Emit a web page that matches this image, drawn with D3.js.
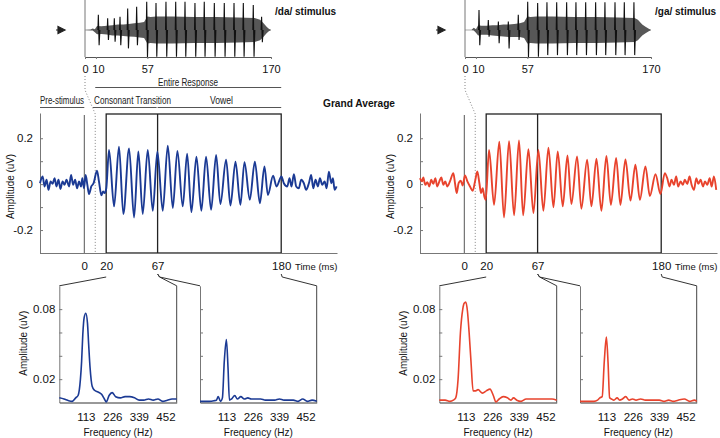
<!DOCTYPE html>
<html><head><meta charset="utf-8">
<script src="https://cdn.jsdelivr.net/npm/d3@7"></script>
<style>body{margin:0;background:#fff}svg{display:block;font-family:"Liberation Sans",Arial,Helvetica,sans-serif}</style>
</head><body>
<svg id="c" width="720" height="438"></svg>
<script>
// ---------------- DATA ----------------
const stimTicks = [0, 10, 57, 170];
const respTicks = [0, 20, 67, 180];
const freqTicks = [113, 226, 339, 452];
const respYTicks = [-0.3, -0.2, -0.1, 0, 0.1, 0.2];
const respYLabels = [0.2, 0, -0.2];
const specYTicks = [0.02, 0.04, 0.06, 0.08];
const specYLabels = [0.08, 0.02];

// stimulus waveforms: envelope + pitch-pulse spikes (time ms, normalized amplitude)
const daEnvT  = [0,5,7,9,11,15,20,25,30,35,40,45,50,54,57,60,65,80,100,120,140,155,160,163,166,168,170];
const daEnvHi = [0.01,0.02,0.06,0.03,0.15,0.14,0.16,0.18,0.2,0.2,0.22,0.25,0.27,0.3,0.5,0.48,0.5,0.5,0.48,0.48,0.46,0.44,0.38,0.26,0.12,0.05,0.01];
const daEnvLo = [-0.01,-0.02,-0.02,-0.08,-0.16,-0.15,-0.17,-0.2,-0.2,-0.22,-0.24,-0.25,-0.28,-0.3,-0.5,-0.48,-0.5,-0.5,-0.48,-0.48,-0.46,-0.44,-0.38,-0.26,-0.12,-0.05,-0.01];
const daSpikeT   = [12.2,20.7,26.8,32.0,39.0,47.2,56.4,64.9,74.0,82.9,91.4,100.5,109.0,118.2,127.3,136.2,144.7,153.8,161.4];
const daSpikeTop = [0.56,0.43,0.43,0.49,0.80,0.86,1.05,1.0,1.05,1.05,1.05,1.0,1.05,1.0,1.0,1.0,1.0,0.93,0.49];
const daSpikeBot = [-0.56,-0.37,-0.43,-0.56,-0.68,-0.56,-1.0,-0.99,-0.99,-0.99,-0.99,-0.99,-0.99,-0.99,-0.99,-0.99,-0.99,-0.99,-0.45];

const gaEnvT  = [0,6,8,10,12,15,20,25,30,35,40,45,50,54,57,60,65,80,100,120,140,155,158,162,165,168,170];
const gaEnvHi = [0.01,0.01,0.08,0.03,0.18,0.16,0.16,0.18,0.18,0.2,0.2,0.22,0.25,0.3,0.5,0.48,0.5,0.5,0.48,0.48,0.46,0.44,0.38,0.2,0.12,0.05,0.01];
const gaEnvLo = [-0.01,-0.01,-0.02,-0.1,-0.2,-0.18,-0.18,-0.2,-0.22,-0.24,-0.26,-0.26,-0.26,-0.3,-0.5,-0.48,-0.5,-0.5,-0.48,-0.48,-0.46,-0.44,-0.38,-0.2,-0.12,-0.05,-0.01];
const gaSpikeT   = [12.8,21.3,30.5,39.6,48.7,57.3,66.4,74.9,83.8,92.9,101.4,110.3,119.4,127.9,137.1,145.6,154.4];
const gaSpikeTop = [0.74,0.37,0.31,0.31,0.56,1.05,1.0,1.03,1.03,1.03,1.03,1.03,1.03,1.03,1.03,1.03,1.03];
const gaSpikeBot = [-0.56,-0.25,-0.49,-0.68,-0.37,-1.0,-0.99,-0.93,-0.93,-0.93,-0.93,-0.93,-0.93,-0.93,-0.93,-0.93,-0.93];

// grand-average responses: [time ms, amplitude uV]
const daResp = [[-40.5,0.004],[-38.1,0.033],[-36.3,-0.010],[-34.5,0.019],[-32.7,-0.025],[-30.8,0.012],[-29.0,0.001],[-27.2,0.026],[-25.4,-0.010],[-23.6,0.019],[-21.8,-0.021],[-19.9,0.012],[-18.1,-0.003],[-16.3,0.019],[-13.9,-0.010],[-12.1,0.040],[-10.2,-0.003],[-8.4,0.019],[-6.6,-0.018],[-4.8,0.012],[-3.0,-0.010],[-1.8,0.026],[-0.3,-0.018],[1.2,0.040],[2.8,-0.003],[4.3,-0.043],[6.4,-0.010],[8.5,0.004],[11.6,0.059],[13.4,0.012],[15.6,-0.049],[17.1,-0.032],[18.6,-0.039],[20.1,-0.018],
[22.6,0.149],[27.2,-0.097],[31.7,0.163],[35.7,-0.13],[40.9,0.156],[45.5,-0.145],[49.4,0.142],[53.4,-0.13],[58,0.149],[62.6,-0.116],[66.8,0.142],[71.7,-0.116],[76.3,0.168],[80.9,-0.104],[85.1,0.145],[90,-0.097],[94,0.133],[97.9,-0.122],[102.5,0.12],[107,-0.116],[111.3,0.12],[115.9,-0.112],[120.5,0.127],[124.4,-0.087],[129.6,0.106],[133.6,-0.093],[138.2,0.098],[142.7,-0.09],[146.4,0.096],[151.3,-0.068],[155.9,0.098],[160.5,-0.083],[164.7,0.077],[167.8,-0.047],[172.6,0.037],[175.7,-0.01],[180.2,0.033],
[182.4,0.004],[185.5,-0.010],[187.6,0.026],[189.4,-0.010],[191.6,0.043],[193.7,-0.010],[196.1,-0.018],[198.3,0.019],[200.7,0.004],[202.8,-0.025],[205.3,0.004],[207.4,0.040],[209.3,-0.018],[211.4,0.019],[213.5,-0.010],[215.4,0.026],[217.5,-0.003],[219.7,0.012],[221.5,-0.018],[223.6,0.054],[225.8,0.004],[227.3,0.026],[228.8,-0.025],[230.6,-0.010]];

const gaResp = [[-40.5,0.026],[-38.7,0.012],[-37.5,0.029],[-35.7,-0.003],[-33.8,0.009],[-32.0,-0.010],[-30.2,0.019],[-28.3,0.001],[-26.5,0.026],[-24.7,-0.010],[-22.8,0.012],[-21.0,0.029],[-19.2,-0.003],[-17.4,0.012],[-15.5,-0.010],[-13.1,0.012],[-10.0,0.048],[-8.5,0.004],[-7.0,-0.039],[-5.2,0.004],[-3.3,0.015],[-1.5,-0.006],[0.6,0.038],[2.8,0.012],[5.2,-0.010],[7.7,-0.029],[9.8,0.012],[11.9,0.055],[13.8,0.004],[15.3,-0.039],[16.8,-0.018],[18.3,-0.054],[19.6,-0.068],
[22.6,0.149],[27.2,-0.09],[32,0.185],[36.3,-0.145],[40.9,0.187],[45.5,-0.136],[50,0.19],[53.8,-0.136],[58.6,0.152],[63.2,-0.126],[67.7,0.149],[72.3,-0.116],[76.9,0.159],[81.5,-0.101],[85.4,0.142],[90,-0.097],[94.3,0.125],[97.9,-0.087],[103.1,0.121],[107,-0.107],[112.3,0.107],[116.2,-0.097],[120.8,0.111],[125.3,-0.116],[129.9,0.123],[134,-0.09],[138.8,0.114],[142.7,-0.09],[147.3,0.108],[151.9,-0.072],[156.4,0.085],[160.5,-0.068],[165.6,0.077],[169.6,-0.052],[174.8,0.043],[179.3,-0.043],[183.3,0.048],
[185.5,0.026],[187.6,-0.010],[189.4,0.019],[191.6,-0.003],[193.7,0.033],[195.5,-0.010],[197.7,0.012],[199.8,-0.003],[201.6,0.019],[203.8,0.001],[205.9,0.033],[207.8,-0.003],[209.9,-0.025],[212.1,0.026],[213.9,0.001],[216.0,0.019],[218.2,-0.010],[220.0,0.012],[222.1,-0.003],[224.3,0.026],[226.1,-0.010],[228.2,0.033],[230.3,-0.025]];

// spectra (frequency Hz, amplitude uV)
const daSpec1F = [0,20,40,55,70,80,90,95,100,106,113,120,125,131,140,150,165,180,192,200,212,225,240,260,280,300,320,340,360,380,400,420,440,460,480,500];
const daSpec1A = [0.004,0.003,0.0015,0.001,0.004,0.006,0.02,0.035,0.058,0.073,0.0765,0.068,0.05,0.03,0.014,0.0105,0.009,0.007,0.003,0.0005,0.006,0.0085,0.005,0.004,0.005,0.005,0.004,0.002,0.002,0.003,0.002,0.003,0.001,0.002,0.003,0.003];
const daSpec2F = [0,20,40,60,70,78,88,96,104,113,120,126,135,149,160,175,190,205,220,240,260,280,300,320,340,360,380,400,420,440,460,480,500];
const daSpec2A = [0.001,0.001,0.001,0.0015,0.002,0.005,0.001,0.004,0.035,0.054,0.03,0.002,0.003,0.006,0.003,0.005,0.003,0.004,0.003,0.003,0.003,0.002,0.002,0.002,0.003,0.002,0.002,0.002,0.001,0.003,0.001,0.002,0.001];
const gaSpec1F = [0,25,45,60,70,80,90,100,106,113,120,127,135,144,155,165,184,200,216,230,241,255,272,290,305,316,330,348,370,400,430,460,480,500];
const gaSpec1A = [0.002,0.002,0.001,0.002,0.004,0.02,0.06,0.08,0.085,0.086,0.078,0.06,0.035,0.01,0.01,0.011,0.008,0.01,0.0115,0.006,0.0005,0.003,0.005,0.004,0.002,0.004,0.002,0.001,0.003,0.003,0.003,0.003,0.003,0.002];
const gaSpec2F = [0,20,40,60,75,85,95,104,113,120,127,135,145,159,170,182,196,210,225,240,260,280,300,320,340,360,380,400,420,447,470,490,500];
const gaSpec2A = [0.001,0.001,0.001,0.001,0.002,0.004,0.005,0.035,0.056,0.035,0.004,0.003,0.002,0.004,0.002,0.003,0.005,0.002,0.003,0.002,0.003,0.002,0.002,0.002,0.002,0.001,0.002,0.001,0.002,0.003,0.001,0.002,0.001];

// ---------------- DRAW ----------------
const svg = d3.select("#c");
const AX = "#777", DK = "#222";

const stimX = d3.scaleLinear([0, 170], [85, 271]);
const stimY = d3.scaleLinear([-1, 1], [57, 3]);
const respX = d3.scaleLinear([-40.5, 231], [40, 337]);
const respY = d3.scaleLinear([-0.3, 0.31], [253, 113]);
const specX1 = d3.scaleLinear([0, 500], [59.3, 176.7]);
const specX2 = d3.scaleLinear([0, 500], [200, 316.7]);
const specY = d3.scaleLinear([0, 0.1], [402.5, 285.8]);

function styleAxis(g, size) {
  g.selectAll(".domain").attr("stroke", AX).attr("stroke-width", 1);
  g.selectAll(".tick line").attr("stroke", AX);
  g.selectAll(".tick text").attr("fill", "#111").style("font-size", size + "px").attr("font-family", null);
}
function txt(g, x, y, s, size, opts) {
  opts = opts || {};
  const t = g.append("text").attr("x", x).attr("y", y).style("font-size", size + "px").attr("fill", opts.fill || "#111").text(s);
  if (opts.anchor) t.attr("text-anchor", opts.anchor);
  if (opts.bold) t.attr("font-weight", "bold");
  if (opts.len) t.attr("textLength", opts.len).attr("lengthAdjust", "spacingAndGlyphs");
  if (opts.rot) t.attr("transform", `rotate(-90,${x},${y})`);
  return t;
}

function panel(ox, c) {
  const g = svg.append("g").attr("transform", `translate(${ox},0)`);

  // ---- stimulus ----
  g.append("path").attr("d", "M56,30H60M58,26.5L65,30L58,33.5Z").attr("stroke", DK).attr("fill", DK).attr("stroke-width", 1.2);
  const env = c.envT.map((t, i) => [t, c.envHi[i], c.envLo[i]]);
  g.append("path").datum(env)
    .attr("d", d3.area().x(d => stimX(d[0])).y0(d => stimY(d[2])).y1(d => stimY(d[1])).curve(d3.curveLinear))
    .attr("fill", "#575757");
  c.spikeT.forEach((t, i) => {
    g.append("path")
      .attr("d", d3.line()([[stimX(t - 0.4), stimY(0)], [stimX(t), stimY(c.spikeTop[i])], [stimX(t + 0.7), stimY(c.spikeBot[i])], [stimX(t + 1.4), stimY(0)]]))
      .attr("fill", "none").attr("stroke", "#111").attr("stroke-width", 1.1);
  });
  g.append("line").attr("x1", stimX(0)).attr("x2", stimX(0)).attr("y1", 0).attr("y2", stimY(-1)).attr("stroke", AX);
  const sAx = g.append("g").attr("transform", `translate(0,${stimY(-1)})`)
    .call(d3.axisBottom(stimX).tickValues(stimTicks).tickSizeInner(2).tickSizeOuter(0).tickPadding(6).tickFormat(d => String(d)));
  styleAxis(sAx, 11);
  sAx.select(".domain").attr("stroke", "#555");
  sAx.selectAll(".tick text").filter(d => d === 10).attr("dx", 2);
  txt(g, 275, 15, c.title, 10, {bold: true});

  // dotted link stimulus onset -> response onset (10 ms)
  g.append("path").attr("d", d3.line()([[stimX(0), 76], [stimX(0), 90], [respX(10), 114], [respX(10), respY(-0.3)]]))
    .attr("fill", "none").attr("stroke", "#777").attr("stroke-width", 0.9).attr("stroke-dasharray", "1,2");

  // ---- response ----
  g.append("line").attr("x1", respX(0)).attr("x2", respX(0)).attr("y1", 115).attr("y2", respY(-0.3)).attr("stroke", "#555").attr("stroke-width", 1);
  g.append("rect").attr("x", respX(20)).attr("y", 114).attr("width", respX(180) - respX(20)).attr("height", respY(-0.3) - 114)
    .attr("fill", "none").attr("stroke", DK).attr("stroke-width", 1.3);
  g.append("line").attr("x1", respX(67)).attr("x2", respX(67)).attr("y1", 114).attr("y2", respY(-0.3)).attr("stroke", DK).attr("stroke-width", 1.3);

  const yAx = g.append("g").attr("transform", `translate(${respX(-40.5)},0)`)
    .call(d3.axisLeft(respY).tickValues(respYTicks).tickSizeInner(-3).tickSizeOuter(0).tickPadding(7)
      .tickFormat(d => respYLabels.includes(d) ? String(d) : ""));
  styleAxis(yAx, 11.5);
  const xAx = g.append("g").attr("transform", `translate(0,${respY(-0.3)})`)
    .call(d3.axisBottom(respX).tickValues(respTicks).tickSize(0).tickPadding(9).tickFormat(d => String(d)));
  styleAxis(xAx, 11.5);
  txt(g, 295, 270, "Time (ms)", 9.5);
  txt(g, 14, respY(-0.01), "Amplitude (uV)", 10.5, {anchor: "middle", rot: true, len: 65});

  g.append("path").datum(c.resp)
    .attr("d", d3.line().x(d => respX(d[0])).y(d => respY(d[1])).curve(d3.curveMonotoneX))
    .attr("fill", "none").attr("stroke", c.color).attr("stroke-width", 1.9).attr("stroke-linejoin", "round");

  // ---- connectors ----
  const cl = (pts) => g.append("path").attr("d", d3.line()(pts)).attr("fill", "none").attr("stroke", "#333").attr("stroke-width", 1);
  cl([[respX(20), 277], [specX1(0), specY(0.1)]]);
  cl([[respX(67), 274], [respX(67) + 2, 277], [specX1(500), specY(0.1)]]);
  cl([[respX(67), 274], [respX(67) + 2, 277], [specX2(0), specY(0.1)]]);
  cl([[respX(180), 274], [respX(180) + 1, 277], [specX2(500), specY(0.1)]]);

  // ---- spectra ----
  [[specX1, c.s1F, c.s1A, true], [specX2, c.s2F, c.s2A, false]].forEach(([sx, F, A, lab]) => {
    const ya = g.append("g").attr("transform", `translate(${sx(0)},0)`)
      .call(d3.axisLeft(specY).tickValues(specYTicks).tickSizeInner(-3).tickSizeOuter(0).tickPadding(4)
        .tickFormat(d => lab && specYLabels.includes(d) ? String(d) : ""));
    styleAxis(ya, 11.5);
    const xa = g.append("g").attr("transform", `translate(0,${specY(0)})`)
      .call(d3.axisBottom(sx).tickValues(freqTicks).tickSize(0).tickPadding(10).tickFormat(d => String(d)));
    styleAxis(xa, 11.5);
    xa.select(".domain").attr("stroke", "#333");
    g.append("line").attr("x1", sx(500)).attr("x2", sx(500)).attr("y1", specY(0.1)).attr("y2", specY(0)).attr("stroke", "#444");
    txt(g, (sx(0) + sx(500)) / 2, 436, "Frequency (Hz)", 11, {anchor: "middle", len: 69});
    if (lab) txt(g, 27, specY(0.05) - 1, "Amplitude (uV)", 10.5, {anchor: "middle", rot: true, len: 65});
    g.append("path").datum(F.map((f, i) => [f, A[i]]))
      .attr("d", d3.line().x(d => sx(d[0])).y(d => specY(d[1])).curve(d3.curveMonotoneX))
      .attr("fill", "none").attr("stroke", c.color).attr("stroke-width", 1.6);
  });
  return g;
}

const gL = panel(0, {color: "#1b3a94", title: "/da/ stimulus", envT: daEnvT, envHi: daEnvHi, envLo: daEnvLo,
  spikeT: daSpikeT, spikeTop: daSpikeTop, spikeBot: daSpikeBot, resp: daResp,
  s1F: daSpec1F, s1A: daSpec1A, s2F: daSpec2F, s2A: daSpec2A});
const gR = panel(380, {color: "#e8432d", title: "/ga/ stimulus", envT: gaEnvT, envHi: gaEnvHi, envLo: gaEnvLo,
  spikeT: gaSpikeT, spikeTop: gaSpikeTop, spikeBot: gaSpikeBot, resp: gaResp,
  s1F: gaSpec1F, s1A: gaSpec1A, s2F: gaSpec2F, s2A: gaSpec2A});

// segment labels (left panel only)
txt(gL, 188, 86, "Entire Response", 10, {anchor: "middle", len: 60, fill: "#222"});
gL.append("line").attr("x1", respX(10)).attr("x2", respX(180)).attr("y1", 87.5).attr("y2", 87.5).attr("stroke", "#555");
txt(gL, respX(-40.5), 104, "Pre-stimulus", 10, {len: 44, fill: "#222"});
gL.append("line").attr("x1", respX(-40.5)).attr("x2", respX(0)).attr("y1", 107.5).attr("y2", 107.5).attr("stroke", "#555");
txt(gL, 94, 104, "Consonant Transition", 10, {len: 77, fill: "#222"});
txt(gL, 221.5, 104, "Vowel", 10, {anchor: "middle", len: 23, fill: "#222"});
gL.append("line").attr("x1", 93).attr("x2", respX(67) - 1).attr("y1", 107.5).attr("y2", 107.5).attr("stroke", "#555");
gL.append("line").attr("x1", respX(67)).attr("x2", respX(180)).attr("y1", 107.5).attr("y2", 107.5).attr("stroke", "#555");
txt(gL, 323, 107, "Grand Average", 11, {bold: true, len: 72});
</script>
</body></html>
